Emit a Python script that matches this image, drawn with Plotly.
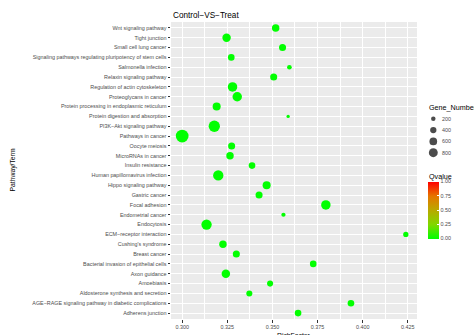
import plotly.graph_objects as go

# ---------------- data (top to bottom as shown) ----------------
pathways = [
    "Wnt signaling pathway",
    "Tight junction",
    "Small cell lung cancer",
    "Signaling pathways regulating pluripotency of stem cells",
    "Salmonella infection",
    "Relaxin signaling pathway",
    "Regulation of actin cytoskeleton",
    "Proteoglycans in cancer",
    "Protein processing in endoplasmic reticulum",
    "Protein digestion and absorption",
    "PI3K\u2212Akt signaling pathway",
    "Pathways in cancer",
    "Oocyte meiosis",
    "MicroRNAs in cancer",
    "Insulin resistance",
    "Human papillomavirus infection",
    "Hippo signaling pathway",
    "Gastric cancer",
    "Focal adhesion",
    "Endometrial cancer",
    "Endocytosis",
    "ECM\u2212receptor interaction",
    "Cushing's syndrome",
    "Breast cancer",
    "Bacterial invasion of epithelial cells",
    "Axon guidance",
    "Amoebiasis",
    "Aldosterone synthesis and secretion",
    "AGE\u2212RAGE signaling pathway in diabetic complications",
    "Adherens junction",
]
rich_factor = [
    0.3518, 0.3246, 0.3556, 0.3272, 0.3594, 0.3507, 0.3279, 0.3305,
    0.3191, 0.3587, 0.3178, 0.3000, 0.3274, 0.3265, 0.3387, 0.3200,
    0.3468, 0.3426, 0.3796, 0.3561, 0.3135, 0.4239, 0.3226, 0.3300,
    0.3726, 0.3242, 0.3487, 0.3372, 0.3935, 0.3642,
]
gene_number = [
    560, 720, 500, 440, 220, 500, 900, 900,
    650, 110, 1280, 1630, 500, 560, 440, 1070,
    650, 500, 900, 180, 1070, 280, 560, 500,
    440, 720, 370, 370, 440, 440,
]
qvalue = [
    0.001, 0.002, 0.001, 0.002, 0.003, 0.002, 0.001, 0.001,
    0.002, 0.004, 0.001, 0.000, 0.002, 0.002, 0.003, 0.001,
    0.002, 0.002, 0.001, 0.004, 0.001, 0.003, 0.002, 0.002,
    0.003, 0.002, 0.003, 0.003, 0.003, 0.003,
]
x_ticks = [0.300, 0.325, 0.350, 0.375, 0.400, 0.425]
size_breaks = [200, 400, 600, 800]
q_ticks = [0.0, 0.25, 0.50, 0.75, 1.00]

# ---------------- layout constants ----------------
W, H = 474, 335
ML, MT, MB = 171, 22, 16
PANEL_R = 417
plot_w = W - ML
plot_h = H - MT - MB
dom_end = (PANEL_R - ML) / plot_w

FONT = "Liberation Sans, Arial, sans-serif"
TXT = "#4D4D4D"
SIZEREF = 20.1


def px_x(p):
    return (p - ML) / plot_w


def px_y(p):
    return (H - MB - p) / plot_h


span = max(rich_factor) - min(rich_factor)
xrange = [min(rich_factor) - 0.05 * span, max(rich_factor) + 0.05 * span]
n = len(pathways)

colorscale = [
    [0.0, "#00FF00"],
    [0.25, "#80D800"],
    [0.5, "#B8AA00"],
    [0.75, "#E57600"],
    [1.0, "#FF0000"],
]

fig = go.Figure()

fig.add_shape(type="rect", xref="x domain", yref="y domain", x0=0, x1=1, y0=0, y1=1,
              fillcolor="#EBEBEB", line_width=0, layer="below")

fig.add_trace(go.Scatter(
    x=rich_factor, y=pathways, mode="markers",
    marker=dict(
        size=gene_number, sizemode="area", sizeref=SIZEREF,
        color=qvalue, cmin=0, cmax=1, colorscale=colorscale,
        line=dict(width=0), opacity=1,
        colorbar=dict(
            x=px_x(428), xanchor="left", xpad=0,
            y=px_y(210), yanchor="middle", ypad=0,
            len=57, lenmode="pixels", thickness=10.5, thicknessmode="pixels",
            outlinewidth=0, borderwidth=0,
            tickvals=q_ticks, ticktext=["%.2f" % v for v in q_ticks],
            ticks="inside", ticklen=2, tickcolor="white", tickwidth=0.6,
            tickfont=dict(family=FONT, size=5.4, color=TXT),
        ),
    ),
    showlegend=False, hoverinfo="x+y",
))

# size legend (drawn on an auxiliary pixel-scaled axis pair)
LEG_KEY_X = 433.3
LEG_Y0 = 118.8
LEG_STEP = 11.3
leg_y = [LEG_Y0 + i * LEG_STEP for i in range(len(size_breaks))]
fig.add_trace(go.Scatter(
    x=[LEG_KEY_X] * len(size_breaks), y=leg_y, xaxis="x2", yaxis="y2",
    mode="markers",
    marker=dict(size=size_breaks, sizemode="area", sizeref=SIZEREF, color="black", line=dict(width=0)),
    showlegend=False, hoverinfo="skip", cliponaxis=False,
))

annotations = [
    dict(text="Control\u2212VS\u2212Treat", xref="paper", yref="paper", x=px_x(171), y=px_y(15),
         xanchor="left", yanchor="middle", showarrow=False, font=dict(family=FONT, size=8.2, color="black")),
    dict(text="Pathway/Term", xref="paper", yref="paper", x=px_x(12), y=0.5, textangle=-90,
         xanchor="center", yanchor="middle", showarrow=False, font=dict(family=FONT, size=6.8, color="black")),
    dict(text="RichFactor", xref="paper", yref="paper", x=px_x((ML + PANEL_R) / 2), y=px_y(330),
         xanchor="center", yanchor="top", showarrow=False, font=dict(family=FONT, size=6.8, color="black")),
    dict(text="Gene_Number", xref="paper", yref="paper", x=px_x(426.5), y=px_y(107.5),
         xanchor="left", yanchor="middle", showarrow=False, font=dict(family=FONT, size=7.2, color="black")),
    dict(text="Qvalue", xref="paper", yref="paper", x=px_x(426.5), y=px_y(176),
         xanchor="left", yanchor="middle", showarrow=False, font=dict(family=FONT, size=7.2, color="black")),
]
for b, yy in zip(size_breaks, leg_y):
    annotations.append(dict(text=str(b), xref="x2", yref="y2", x=440, y=yy, xanchor="left",
                            yanchor="middle", showarrow=False,
                            font=dict(family=FONT, size=5.4, color=TXT)))

fig.update_layout(
    width=W, height=H,
    margin=dict(l=ML, r=0, t=MT, b=MB, pad=0),
    paper_bgcolor="white", plot_bgcolor="white",
    font=dict(family=FONT, color=TXT),
    showlegend=False,
    annotations=annotations,
    xaxis=dict(
        domain=[0, dom_end], range=xrange,
        tickvals=x_ticks, ticktext=["%.3f" % v for v in x_ticks],
        showgrid=True, gridcolor="white", gridwidth=1,
        minor=dict(dtick=0.0125, tick0=0.2875, showgrid=True, gridcolor="white", gridwidth=0.5),
        zeroline=False, showline=False,
        ticks="outside", ticklen=2.5, tickwidth=0.6, tickcolor="#333333",
        tickfont=dict(family=FONT, size=5.4, color=TXT),
    ),
    yaxis=dict(
        type="category", categoryorder="array", categoryarray=pathways,
        range=[n - 1 + 0.6, -0.6],
        showgrid=True, gridcolor="white", gridwidth=1,
        zeroline=False, showline=False,
        ticks="outside", ticklen=2.5, tickwidth=0.6, tickcolor="#333333",
        tickfont=dict(family=FONT, size=5.4, color=TXT),
    ),
    xaxis2=dict(domain=[dom_end, 1], range=[PANEL_R, W], visible=False, anchor="y2", fixedrange=True),
    yaxis2=dict(domain=[0, 1], range=[H - MB, MT], visible=False, anchor="x2", fixedrange=True),
)

fig.write_html(
    "out.html",
    config={"displayModeBar": False},
    post_script="document.body.style.margin='0';document.body.style.overflow='hidden';",
)
